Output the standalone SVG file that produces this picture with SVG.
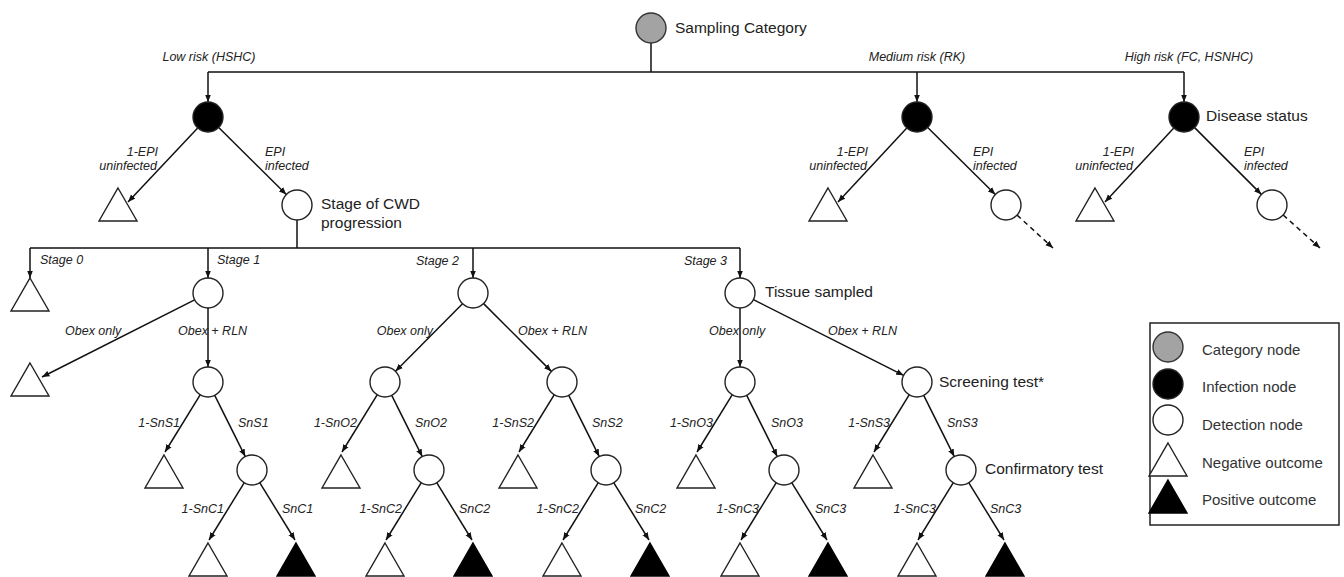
<svg xmlns="http://www.w3.org/2000/svg" width="1344" height="577" viewBox="0 0 1344 577">
<defs>
<marker id="ah" markerUnits="userSpaceOnUse" markerWidth="8" markerHeight="7" refX="7.5" refY="3.5" orient="auto">
<path d="M0,0.5 L7.5,3.5 L0,6.5 z" fill="#111"/>
</marker>
<path id="tri" d="M0,0 L19,33 L-19,33 z"/>
</defs>
<style>
.e{stroke:#111;stroke-width:1.5;fill:none}
.a{marker-end:url(#ah)}
.d{stroke-dasharray:5,4}
.cw{fill:#fff;stroke:#222;stroke-width:1.4}
.cb{fill:#000;stroke:#222;stroke-width:1.4}
.cg{fill:#a3a3a3;stroke:#333;stroke-width:1.4}
.tw{fill:#fff;stroke:#222;stroke-width:1.4}
.tb{fill:#000;stroke:#000;stroke-width:1.4}
.lb{font-family:"Liberation Sans",Arial,sans-serif;font-style:italic;font-size:12.5px;fill:#222}
.nt{font-family:"Liberation Sans",Arial,sans-serif;font-size:15.5px;fill:#222}
.lg{font-family:"Liberation Sans",Arial,sans-serif;font-size:15px;fill:#333}
.m{text-anchor:middle}
.r{text-anchor:end}
</style>
<rect width="1344" height="577" fill="#fff"/>

<g id="connectors">
<!-- root -->
<path class="e" d="M651,43 V72 M208,72 H1184"/>
<path class="e a" d="M208,72 V102"/>
<path class="e a" d="M917,72 V102"/>
<path class="e a" d="M1184,72 V102"/>
<!-- infection nodes -->
<path class="e a" d="M197.7,127.9 L128,202"/>
<path class="e a" d="M218.7,127.5 L286.3,194.5"/>
<path class="e a" d="M906.8,128 L838,202"/>
<path class="e a" d="M927.7,127.5 L995.3,194.5"/>
<path class="e a d" d="M1017.1,215.1 L1053,248"/>
<path class="e a" d="M1173.8,128 L1105,202"/>
<path class="e a" d="M1194.6,127.6 L1261.4,194.4"/>
<path class="e a d" d="M1283.2,215 L1320,248"/>
<!-- stages -->
<path class="e" d="M297,220 V248 M30,248 H740"/>
<path class="e a" d="M30,248 V278"/>
<path class="e a" d="M208,248 V278"/>
<path class="e a" d="M473,248 V278"/>
<path class="e a" d="M740,248 V278"/>
<!-- tissue -->
<path class="e a" d="M194.6,299.8 L42,377"/>
<path class="e a" d="M208,308 V367"/>
<path class="e a" d="M462.5,303.7 L395.5,371.3"/>
<path class="e a" d="M483.6,303.6 L551.4,371.4"/>
<path class="e a" d="M740,308 V367"/>
<path class="e a" d="M753.4,299.7 L903.6,375.3"/>
<!-- screening -->
<path class="e a" d="M200.15,394.78 L165,452"/>
<path class="e a" d="M214.71,395.42 L245.29,456.58"/>
<path class="e a" d="M377.15,394.78 L342,452"/>
<path class="e a" d="M391.71,395.42 L422.29,456.58"/>
<path class="e a" d="M554.15,394.78 L519,452"/>
<path class="e a" d="M568.71,395.42 L599.29,456.58"/>
<path class="e a" d="M732.15,394.78 L697,452"/>
<path class="e a" d="M746.71,395.42 L777.29,456.58"/>
<path class="e a" d="M909.15,394.78 L874,452"/>
<path class="e a" d="M923.71,395.42 L954.29,456.58"/>
<!-- confirmatory -->
<path class="e a" d="M244.15,482.78 L209,540"/>
<path class="e a" d="M259.85,482.78 L295,540"/>
<path class="e a" d="M421.15,482.78 L386,540"/>
<path class="e a" d="M436.85,482.78 L472,540"/>
<path class="e a" d="M598.15,482.78 L563,540"/>
<path class="e a" d="M613.85,482.78 L649,540"/>
<path class="e a" d="M776.15,482.78 L741,540"/>
<path class="e a" d="M791.85,482.78 L827,540"/>
<path class="e a" d="M953.15,482.78 L918,540"/>
<path class="e a" d="M968.85,482.78 L1004,540"/>
</g>

<g id="edge-labels">
<text class="lb m" x="209" y="61">Low risk (HSHC)</text>
<text class="lb m" x="917" y="61">Medium risk (RK)</text>
<text class="lb m" x="1189" y="61">High risk (FC, HSNHC)</text>
<text class="lb r" x="158" y="156">1-EPI</text>
<text class="lb r" x="157" y="170">uninfected</text>
<text class="lb" x="265" y="156">EPI</text>
<text class="lb" x="265" y="170">infected</text>
<text class="lb r" x="868" y="156">1-EPI</text>
<text class="lb r" x="867" y="170">uninfected</text>
<text class="lb" x="973" y="156">EPI</text>
<text class="lb" x="973" y="170">infected</text>
<text class="lb r" x="1134" y="156">1-EPI</text>
<text class="lb r" x="1133" y="170">uninfected</text>
<text class="lb" x="1244" y="156">EPI</text>
<text class="lb" x="1244" y="170">infected</text>
<text class="lb" x="40" y="264">Stage 0</text>
<text class="lb" x="217" y="264">Stage 1</text>
<text class="lb r" x="459" y="265">Stage 2</text>
<text class="lb r" x="727" y="265">Stage 3</text>
<text class="lb" x="65" y="335">Obex only</text>
<text class="lb" x="178" y="335">Obex + RLN</text>
<text class="lb r" x="433" y="335">Obex only</text>
<text class="lb" x="518" y="335">Obex + RLN</text>
<text class="lb" x="709" y="335">Obex only</text>
<text class="lb" x="828" y="335">Obex + RLN</text>
<text class="lb r" x="180" y="427">1-SnS1</text>
<text class="lb" x="238" y="427">SnS1</text>
<text class="lb r" x="357" y="427">1-SnO2</text>
<text class="lb" x="415" y="427">SnO2</text>
<text class="lb r" x="534" y="427">1-SnS2</text>
<text class="lb" x="592" y="427">SnS2</text>
<text class="lb r" x="713" y="427">1-SnO3</text>
<text class="lb" x="771" y="427">SnO3</text>
<text class="lb r" x="890" y="427">1-SnS3</text>
<text class="lb" x="947" y="427">SnS3</text>
<text class="lb r" x="224" y="513">1-SnC1</text>
<text class="lb" x="282" y="513">SnC1</text>
<text class="lb r" x="402" y="513">1-SnC2</text>
<text class="lb" x="459" y="513">SnC2</text>
<text class="lb r" x="579" y="513">1-SnC2</text>
<text class="lb" x="635" y="513">SnC2</text>
<text class="lb r" x="759" y="513">1-SnC3</text>
<text class="lb" x="815" y="513">SnC3</text>
<text class="lb r" x="936" y="513">1-SnC3</text>
<text class="lb" x="990" y="513">SnC3</text>
</g>

<g id="n-root"><circle class="cg" cx="651" cy="28" r="15"/><text class="nt" x="675" y="33">Sampling Category</text></g>
<g id="n-low"><circle class="cb" cx="208" cy="117" r="15"/></g>
<g id="n-med"><circle class="cb" cx="917" cy="117" r="15"/></g>
<g id="n-high"><circle class="cb" cx="1184" cy="117" r="15"/><text class="nt" x="1206" y="121">Disease status</text></g>
<g id="n-low-neg"><use href="#tri" class="tw" x="118" y="188"/></g>
<g id="n-med-neg"><use href="#tri" class="tw" x="828" y="188"/></g>
<g id="n-high-neg"><use href="#tri" class="tw" x="1095" y="188"/></g>
<g id="n-low-stage"><circle class="cw" cx="297" cy="205" r="15"/><text class="nt" x="321" y="209">Stage of CWD</text><text class="nt" x="321" y="228">progression</text></g>
<g id="n-med-stage"><circle class="cw" cx="1006" cy="205" r="15"/></g>
<g id="n-high-stage"><circle class="cw" cx="1272" cy="205" r="15"/></g>

<g id="n-stage0"><use href="#tri" class="tw" x="30" y="278"/></g>
<g id="n-stage1"><circle class="cw" cx="208" cy="293" r="15"/></g>
<g id="n-stage2"><circle class="cw" cx="473" cy="293" r="15"/></g>
<g id="n-stage3"><circle class="cw" cx="740" cy="293" r="15"/><text class="nt" x="765" y="297">Tissue sampled</text></g>

<g id="n-s1-obex-neg"><use href="#tri" class="tw" x="30" y="363"/></g>
<g id="n-s1-rln"><circle class="cw" cx="208" cy="382" r="15"/></g>
<g id="n-s2-obex"><circle class="cw" cx="385" cy="382" r="15"/></g>
<g id="n-s2-rln"><circle class="cw" cx="562" cy="382" r="15"/></g>
<g id="n-s3-obex"><circle class="cw" cx="740" cy="382" r="15"/></g>
<g id="n-s3-rln"><circle class="cw" cx="917" cy="382" r="15"/><text class="nt" x="939" y="387">Screening test*</text></g>

<g id="n-s1-rln-neg"><use href="#tri" class="tw" x="164" y="455"/></g>
<g id="n-s2-obex-neg"><use href="#tri" class="tw" x="341" y="455"/></g>
<g id="n-s2-rln-neg"><use href="#tri" class="tw" x="518" y="455"/></g>
<g id="n-s3-obex-neg"><use href="#tri" class="tw" x="696" y="455"/></g>
<g id="n-s3-rln-neg"><use href="#tri" class="tw" x="873" y="455"/></g>

<g id="n-s1-conf"><circle class="cw" cx="252" cy="470" r="15"/></g>
<g id="n-s2o-conf"><circle class="cw" cx="429" cy="470" r="15"/></g>
<g id="n-s2r-conf"><circle class="cw" cx="606" cy="470" r="15"/></g>
<g id="n-s3o-conf"><circle class="cw" cx="784" cy="470" r="15"/></g>
<g id="n-s3r-conf"><circle class="cw" cx="961" cy="470" r="15"/><text class="nt" x="985" y="474">Confirmatory test</text></g>

<g id="n-s1-c-neg"><use href="#tri" class="tw" x="208" y="543"/></g>
<g id="n-s1-c-pos"><use href="#tri" class="tb" x="296" y="543"/></g>
<g id="n-s2o-c-neg"><use href="#tri" class="tw" x="385" y="543"/></g>
<g id="n-s2o-c-pos"><use href="#tri" class="tb" x="473" y="543"/></g>
<g id="n-s2r-c-neg"><use href="#tri" class="tw" x="562" y="543"/></g>
<g id="n-s2r-c-pos"><use href="#tri" class="tb" x="650" y="543"/></g>
<g id="n-s3o-c-neg"><use href="#tri" class="tw" x="740" y="543"/></g>
<g id="n-s3o-c-pos"><use href="#tri" class="tb" x="828" y="543"/></g>
<g id="n-s3r-c-neg"><use href="#tri" class="tw" x="917" y="543"/></g>
<g id="n-s3r-c-pos"><use href="#tri" class="tb" x="1005" y="543"/></g>

<g id="legend">
<rect x="1150" y="323" width="189" height="202" fill="#fff" stroke="#222" stroke-width="1.5"/>
<circle class="cg" cx="1168" cy="347" r="15"/>
<circle class="cb" cx="1168" cy="384" r="15"/>
<circle class="cw" cx="1168" cy="420" r="15"/>
<use href="#tri" class="tw" x="1168" y="443"/>
<use href="#tri" class="tb" x="1168" y="480"/>
<text class="lg" x="1202" y="355">Category node</text>
<text class="lg" x="1202" y="392">Infection node</text>
<text class="lg" x="1202" y="430">Detection node</text>
<text class="lg" x="1202" y="468">Negative outcome</text>
<text class="lg" x="1202" y="505">Positive outcome</text>
</g>
</svg>
